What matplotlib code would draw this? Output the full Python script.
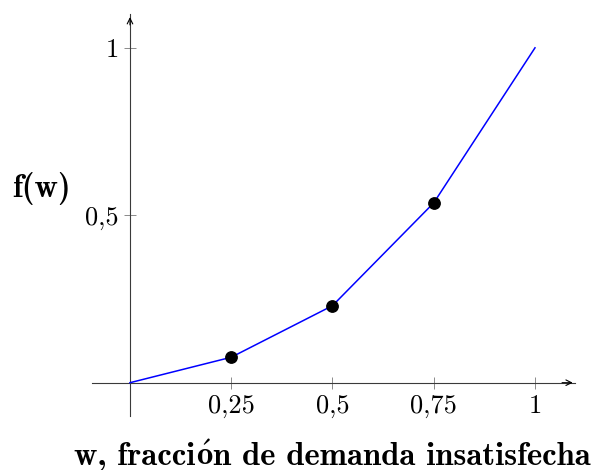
import matplotlib
matplotlib.use("Agg")
from matplotlib import pyplot as plt

# fraction of unmet demand and the resulting f(w)
w = [0, 0.25, 0.5, 0.75, 1]
f_w = [0, 0.076, 0.23, 0.537, 1]
# only the interior points carry a marker
w_marked = [0.25, 0.5, 0.75]
f_marked = [0.076, 0.23, 0.537]

x_ticks = [0.25, 0.5, 0.75, 1]
x_tick_labels = ["0,25", "0,5", "0,75", "1"]
y_ticks = [0.5, 1]
y_tick_labels = ["0,5", "1"]

# cmb10 has no accented letters, so the ó goes through mathtext
x_label_parts = ["w, fracci", r"$\mathbf{\acute{o}}$", "n de demanda insatisfecha"]
y_label = "f(w)"

plt.rcParams["font.family"] = "serif"
plt.rcParams["font.serif"] = ["cmr10"]
plt.rcParams["mathtext.fontset"] = "cm"
plt.rcParams["axes.unicode_minus"] = False

W, H = 595, 470
fig = plt.figure(figsize=(W / 100, H / 100), dpi=100)
ax = fig.add_axes([0.1538, 0.1145, 0.8134, 0.855])

ax.plot(w, f_w, color="#0000ff", linewidth=1.1, zorder=3)
ax.plot(w_marked, f_marked, "o", color="black", markersize=8.2, zorder=4)

ax.set_xlim(-0.095, 1.1)
ax.set_ylim(-0.1, 1.1)

# axis lines through the origin, pgfplots style
axis_color = "#3a3a3a"
for side in ["top", "right"]:
    ax.spines[side].set_visible(False)
ax.spines["left"].set_position(("data", 0))
ax.spines["bottom"].set_position(("data", 0))
for side in ["left", "bottom"]:
    ax.spines[side].set_color(axis_color)
    ax.spines[side].set_linewidth(0.8)

# arrow heads at the positive ends
ax.annotate("", xy=(1.1, 0), xytext=(1.06, 0),
            arrowprops=dict(arrowstyle="->", color="black", lw=0.8, mutation_scale=10))
ax.annotate("", xy=(0, 1.1), xytext=(0, 1.06),
            arrowprops=dict(arrowstyle="->", color="black", lw=0.8, mutation_scale=10))

ax.set_xticks(x_ticks)
ax.set_xticklabels(x_tick_labels)
ax.set_yticks(y_ticks)
ax.set_yticklabels(y_tick_labels)
ax.tick_params(direction="inout", length=8.6, width=0.6, color="#777777",
               labelsize=19, pad=4)

label_size = 23.5
renderer = fig.canvas.get_renderer()


def pieces_width(parts):
    total = 0
    for p in parts:
        t = fig.text(0, 0, p, fontname="cmb10", fontsize=label_size)
        total += t.get_window_extent(renderer).width
        t.remove()
    return total


# x label, centred under the axis, written piece by piece
x_pos = 332.5 - pieces_width(x_label_parts) / 2
for p in x_label_parts:
    t = fig.text(x_pos / W, (H - 465) / H, p, fontname="cmb10",
                 fontsize=label_size, ha="left", va="baseline")
    x_pos += t.get_window_extent(renderer).width

fig.text(12 / W, (H - 197) / H, y_label, fontname="cmb10", fontsize=label_size,
         ha="left", va="baseline")

fig.savefig("out.png", dpi=100)
